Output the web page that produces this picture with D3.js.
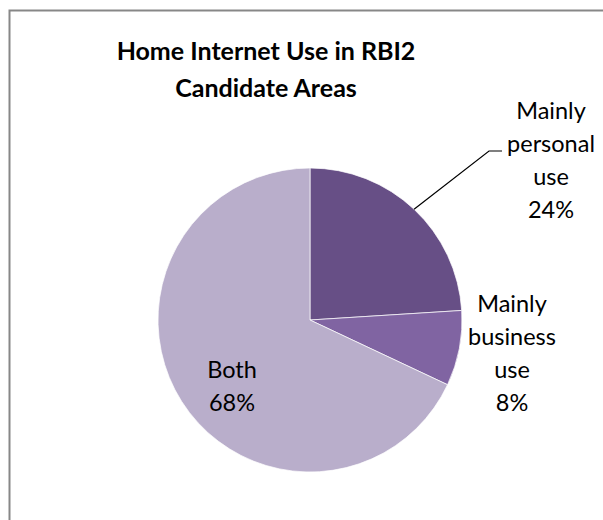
<!DOCTYPE html>
<html>
<head>
<meta charset="utf-8">
<script src="https://cdn.jsdelivr.net/npm/d3@7"></script>
<style>
	body { margin: 0; background: #fff; }
	svg { display: block; }
	.title { font-family: Lato, 'Open Sans', sans-serif; font-weight: bold; font-size: 25px; fill: #000; }
	.label { font-family: Lato, 'Open Sans', sans-serif; font-size: 23.5px; fill: #000; }
</style>
</head>
<body>
<script>
var categories = ['Mainly personal use', 'Mainly business use', 'Both'];
var shares = [24, 8, 68];
var labelLines = [['Mainly', 'personal', 'use', '24%'], ['Mainly', 'business', 'use', '8%'], ['Both', '68%']];
var titleLines = ['Home Internet Use in RBI2', 'Candidate Areas'];

var width = 603, height = 520;
var cx = 310, cy = 320, radius = 152,
	lineHeight = 33;
var colors = ['#674f86', '#8064a2', '#b9aecb'];

var svg = d3.select('body').append('svg')
	.attr('width', width)
	.attr('height', height);

// chart frame (cut off at right and bottom)
svg.append('rect')
	.attr('x', 9.5).attr('y', 10.5)
	.attr('width', 700).attr('height', 600)
	.attr('fill', 'none')
	.attr('stroke', '#878787')
	.attr('stroke-width', 2);

// title
svg.append('g').selectAll('text').data(titleLines).enter().append('text')
	.attr('class', 'title')
	.attr('x', 266)
	.attr('y', function (d, i) { return 60 + i * 37; })
	.attr('text-anchor', 'middle')
	.text(function (d) { return d; });

var data = categories.map(function (c, i) { return { name: c, value: shares[i], lines: labelLines[i] }; });

var pie = d3.pie().sort(null).value(function (d) { return d.value; });
var arc = d3.arc().innerRadius(0).outerRadius(radius);
var arcs = pie(data);

var pieEl = svg.append('g').attr('transform', 'translate(' + cx + ',' + cy + ')');
pieEl.selectAll('path').data(arcs).enter().append('path')
	.attr('d', arc)
	.attr('fill', function (d, i) { return colors[i]; })
	.attr('stroke', '#fff')
	.attr('stroke-width', 0.7);

// label anchor: x centre and baseline of the first line
var labelPos = [[551, 119], [512, 312], [232, 378]];

arcs.forEach(function (a, i) {
	svg.append('g').selectAll('text').data(a.data.lines).enter().append('text')
		.attr('class', 'label')
		.attr('x', labelPos[i][0])
		.attr('y', function (d, j) { return labelPos[i][1] + j * lineHeight; })
		.attr('text-anchor', 'middle')
		.text(function (d) { return d; });
});

// leader line for the personal-use slice
var mid = (arcs[0].startAngle + arcs[0].endAngle) / 2;
var p0 = [cx + radius * Math.sin(mid), cy - radius * Math.cos(mid)];
svg.append('path')
	.attr('d', 'M' + p0[0] + ',' + p0[1] + ' L489,151 L502,151')
	.attr('fill', 'none')
	.attr('stroke', '#000')
	.attr('stroke-width', 1.2);
</script>
</body>
</html>
